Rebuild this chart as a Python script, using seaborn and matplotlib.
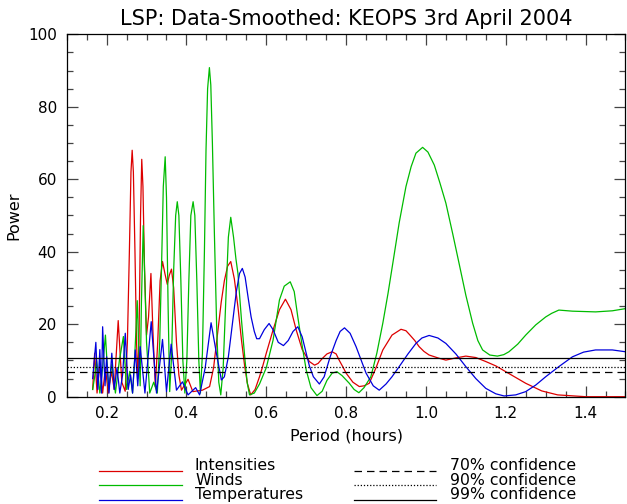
import matplotlib
matplotlib.use("Agg")
import matplotlib.pyplot as plt
from matplotlib.lines import Line2D
from matplotlib.ticker import MultipleLocator
import seaborn as sns
import pandas as pd

# ---------------- data ----------------
int_period = [0.165, 0.17, 0.176, 0.183, 0.19, 0.197, 0.204, 0.212, 0.219, 0.229, 0.238, 0.2465,
              0.252, 0.257, 0.261, 0.264, 0.267, 0.271, 0.275, 0.278, 0.281, 0.285, 0.288, 0.291,
              0.295, 0.30, 0.305, 0.311, 0.316, 0.322, 0.328, 0.334, 0.34, 0.346, 0.352, 0.357,
              0.3625, 0.368, 0.375, 0.381, 0.3875, 0.404, 0.416, 0.44, 0.458, 0.468, 0.479,
              0.487, 0.495, 0.503, 0.511, 0.52, 0.529, 0.538, 0.546, 0.553, 0.561, 0.572, 0.583,
              0.59, 0.60, 0.617, 0.633, 0.648, 0.662, 0.675, 0.69, 0.708, 0.721, 0.73, 0.74,
              0.752, 0.765, 0.775, 0.783, 0.792, 0.80, 0.817, 0.833, 0.845, 0.858, 0.875, 0.892,
              0.915, 0.9375, 0.95, 0.96, 0.972, 0.983, 0.995, 1.008, 1.033, 1.05, 1.075, 1.10,
              1.125, 1.15, 1.175, 1.20, 1.225, 1.25, 1.29, 1.33, 1.40, 1.50]
int_power = [2, 12, 1, 9, 1, 8, 1, 7, 2, 21, 4, 1.5,
             15, 40, 62, 68, 62, 40, 15, 5, 15, 50, 65.5, 58,
             35, 17, 22, 34, 18, 2.8, 15, 32, 37.3, 34, 31, 33.5,
             35.2, 30, 15, 6, 1.8, 4.8, 1.4, 1.8, 2.8, 8, 18.4,
             26, 32, 36, 37.3, 32.5, 24.8, 15.5, 8.3, 3.5, 0.5, 2, 5.5,
             8, 12, 18.4, 24, 26.9, 24, 18.4, 13, 9.7, 8.7, 9.2, 10.5,
             11.8, 12.4, 11.8, 10, 8.2, 6.5, 4, 2.8, 3, 3.7, 8, 12.9,
             17, 18.6, 18.2, 17, 15.5, 13.8, 12.5, 11.5, 10.6, 10.1, 10.7, 11.2,
             10.8, 9.7, 8.5, 6.9, 5.3, 3.7, 1.6, 0.5, 0.0, 0.0]

wind_period = [0.165, 0.17, 0.175, 0.183, 0.19, 0.197, 0.205, 0.213, 0.222, 0.232, 0.242, 0.25,
               0.258, 0.265, 0.27, 0.2767, 0.28, 0.284, 0.287, 0.2917, 0.295, 0.30, 0.308,
               0.318, 0.327, 0.333, 0.338, 0.342, 0.3467, 0.35, 0.354, 0.358, 0.363, 0.368,
               0.373, 0.377, 0.381, 0.386, 0.391, 0.396, 0.401, 0.406, 0.411, 0.4167, 0.421,
               0.426, 0.431, 0.435, 0.44, 0.445, 0.449, 0.453, 0.4575, 0.461, 0.465, 0.47,
               0.476, 0.481, 0.486, 0.492, 0.498, 0.505, 0.511, 0.518, 0.524, 0.529, 0.538,
               0.546, 0.552, 0.558, 0.57, 0.583, 0.60, 0.617, 0.633, 0.645, 0.66, 0.67, 0.679,
               0.69, 0.70, 0.712, 0.727, 0.74, 0.752, 0.765, 0.777, 0.79, 0.808, 0.82, 0.832,
               0.845, 0.862, 0.877, 0.892, 0.905, 0.917, 0.933, 0.95, 0.963, 0.975, 0.9917,
               1.005, 1.021, 1.035, 1.05, 1.067, 1.083, 1.10, 1.117, 1.13, 1.142, 1.16, 1.179,
               1.195, 1.208, 1.23, 1.25, 1.275, 1.30, 1.315, 1.333, 1.367, 1.425, 1.467, 1.50]
wind_power = [2, 5.5, 10, 1, 8, 17, 2, 9, 1, 10, 16.6, 2,
              7, 1, 10, 26.5, 15, 3, 25, 47.2, 35, 15, 1,
              4, 1, 15, 38, 58, 66.2, 55, 25, 1.4, 12, 35,
              50, 53.8, 50, 32, 10, 1, 10, 32, 50, 53.8, 50,
              32, 10, 1, 12, 40, 68, 85, 90.8, 86, 70, 45,
              18, 4, 0.5, 8, 25, 44, 49.5, 44, 38, 34, 21,
              11, 4, 0.5, 1, 3.5, 8, 15.6, 26.7, 30.5, 31.7, 29, 22,
              14, 7.4, 2.5, 0.3, 1.5, 4.5, 6.5, 6.9, 5.8, 3.7, 2, 1.1,
              2.5, 5.5, 12, 20.3, 28.5, 36.8, 48, 58, 63.5, 67.2, 68.8,
              67.5, 63.9, 59, 53.4, 45, 36.8, 28, 20.3, 15.5, 12.9, 11.5, 11.2,
              11.6, 12.4, 14.5, 17, 19.8, 22, 23, 23.9, 23.6, 23.4, 23.7, 24.3]

temp_period = [0.165, 0.173, 0.178, 0.183, 0.187, 0.19, 0.196, 0.20, 0.206, 0.213, 0.219, 0.226,
               0.233, 0.24, 0.2467, 0.254, 0.26, 0.265, 0.2717, 0.278, 0.284, 0.296, 0.3117,
               0.325, 0.34, 0.35, 0.3617, 0.375, 0.39, 0.404, 0.423, 0.433, 0.447, 0.4617,
               0.475, 0.4875, 0.495, 0.505, 0.515, 0.525, 0.533, 0.54, 0.547, 0.555, 0.562,
               0.57, 0.576, 0.583, 0.595, 0.607, 0.617, 0.63, 0.643, 0.655, 0.667, 0.679, 0.69,
               0.70, 0.708, 0.718, 0.733, 0.745, 0.76, 0.775, 0.785, 0.796, 0.81, 0.825, 0.838,
               0.85, 0.868, 0.883, 0.90, 0.915, 0.933, 0.955, 0.975, 0.99, 1.008, 1.03, 1.05,
               1.075, 1.10, 1.125, 1.15, 1.175, 1.196, 1.225, 1.25, 1.275, 1.30, 1.333, 1.367,
               1.395, 1.425, 1.467, 1.50]
temp_power = [5, 15, 2, 13, 1, 19.3, 3, 11, 1, 12, 2, 8,
              1, 6, 17.5, 2, 6, 1, 12.9, 3, 13.8, 1, 20.7,
              1, 15.8, 1.4, 14.5, 1.8, 4.1, 0.5, 2.5, 0.5, 8, 20.4,
              12, 4.6, 5.5, 11, 20, 29, 34, 35.4, 33, 27, 22,
              18, 16, 16, 18.5, 20.2, 18.5, 15, 14.1, 15.5, 18, 19.3, 16.5,
              12, 8.5, 5.5, 3.5, 5.5, 11, 15.5, 18, 19, 17.5, 13.8, 10,
              6.5, 3, 1.8, 3.5, 5.5, 8.3, 11.8, 14.7, 16.2, 16.9, 16.2, 14.7,
              11.8, 8.3, 5, 2.3, 0.8, 0.2, 0.5, 1.4, 3.2, 5.5, 8.3, 11,
              12.3, 12.9, 12.9, 12.4]

conf_labels = ["70% confidence", "90% confidence", "99% confidence"]
conf_levels = [6.9, 8.1, 10.6]
conf_styles = [(0, (6, 4)), (0, (1, 1.5)), "-"]

series_names = ["Intensities", "Winds", "Temperatures"]
series_colors = ["#dd0000", "#00bb00", "#0000dd"]

# ---------------- figure ----------------
fig = plt.figure(figsize=(6.27, 5.04), dpi=100)
ax = fig.add_axes([0.1064, 0.2129, 0.8912, 0.7191])

frames = [
    pd.DataFrame({"period": int_period, "power": int_power}),
    pd.DataFrame({"period": wind_period, "power": wind_power}),
    pd.DataFrame({"period": temp_period, "power": temp_power}),
]
for df, c in zip(frames, series_colors):
    sns.lineplot(data=df, x="period", y="power", ax=ax, color=c, lw=0.9,
                 estimator=None, sort=False, legend=False)

for lev, ls in zip(conf_levels, conf_styles):
    ax.axhline(lev, color="black", lw=0.9, ls=ls)

ax.set_xlim(0.1, 1.5)
ax.set_ylim(0, 100)
ax.xaxis.set_minor_locator(MultipleLocator(0.05))
ax.yaxis.set_minor_locator(MultipleLocator(5))
ax.set_xticks([0.2, 0.4, 0.6, 0.8, 1.0, 1.2, 1.4])
ax.set_xticklabels(["0.2", "0.4", "0.6", "0.8", "1.0", "1.2", "1.4"])
ax.set_yticks([0, 20, 40, 60, 80, 100])
ax.set_yticklabels(["0", "20", "40", "60", "80", "100"])
ax.tick_params(which="both", direction="in", top=True, right=True, color="#444444",
               labelsize=11, width=0.9)
ax.tick_params(which="major", length=8, pad=7)
ax.tick_params(which="minor", length=4)
for s in ax.spines.values():
    s.set_linewidth(0.9)
    s.set_color("black")

ax.set_xlabel("Period (hours)", fontsize=11.5, labelpad=5)
ax.set_ylabel("Power", fontsize=11.5, labelpad=5)
ax.set_title("LSP: Data-Smoothed: KEOPS 3rd April 2004", fontsize=15, pad=7)

# ---------------- legend (below the plot) ----------------
row_line_y = [0.066, 0.0383, 0.0079]
row_text_y = [0.0754, 0.0462, 0.0179]
for name, c, ly, ty in zip(series_names, series_colors, row_line_y, row_text_y):
    fig.add_artist(Line2D([0.1584, 0.2898], [ly, ly], color=c, lw=0.9,
                          transform=fig.transFigure))
    fig.text(0.311, ty, name, fontsize=11.3, va="center", ha="left")
for lab, ls, ly, ty in zip(conf_labels, conf_styles, row_line_y, row_text_y):
    fig.add_artist(Line2D([0.5646, 0.6954], [ly, ly], color="black", lw=0.9, ls=ls,
                          transform=fig.transFigure))
    fig.text(0.718, ty, lab, fontsize=11.3, va="center", ha="left")

fig.savefig("out.png", dpi=100)
